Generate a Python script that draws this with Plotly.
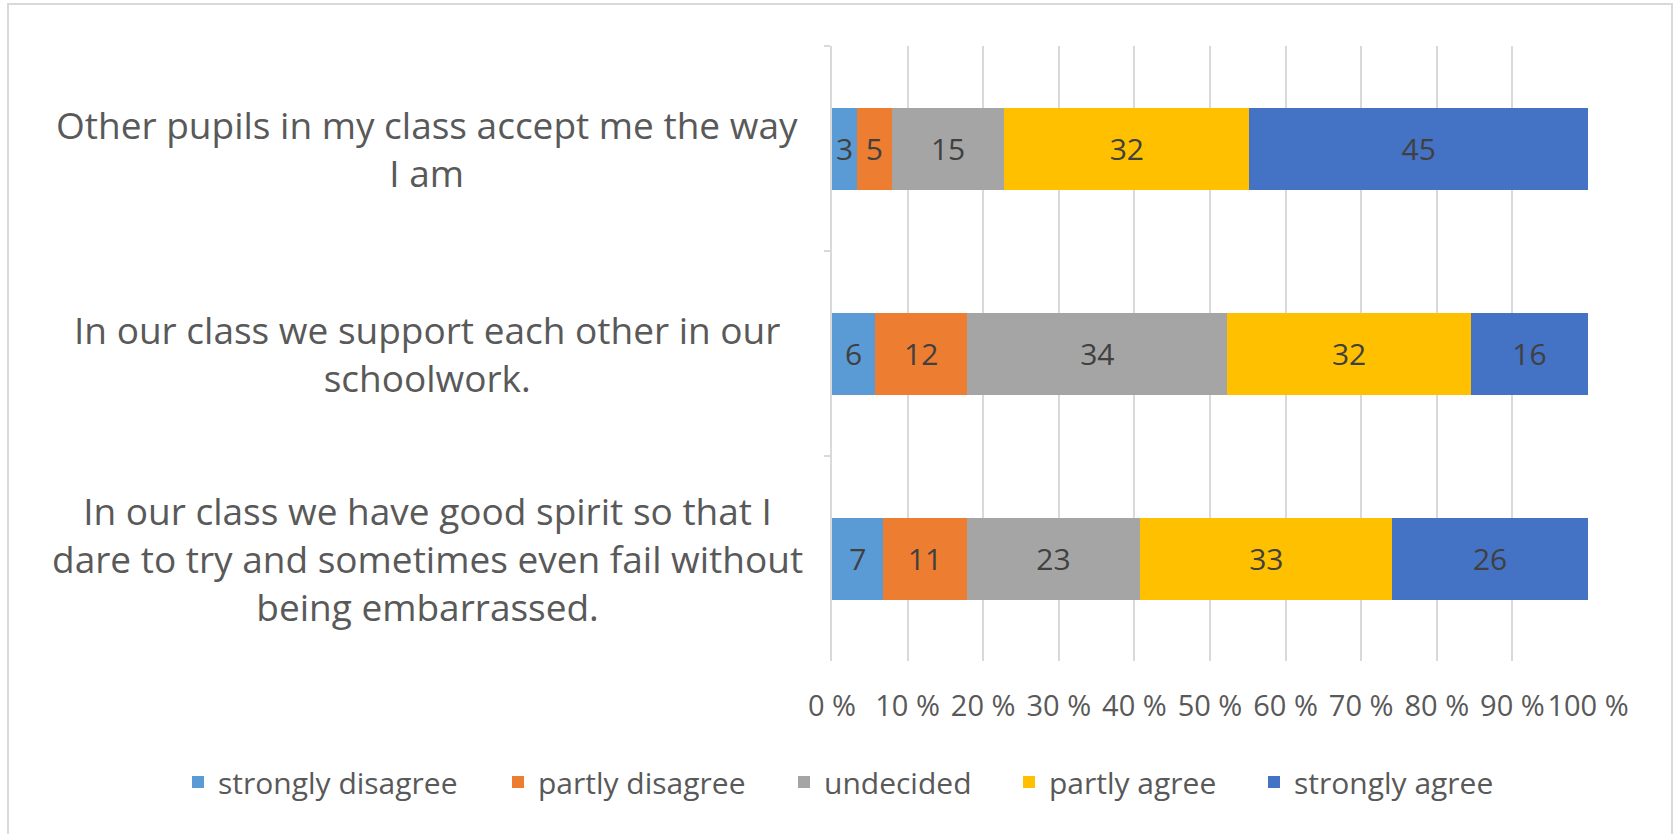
import plotly.graph_objects as go

# ---- data ----
categories = [
    "Other pupils in my class accept me the way I am",
    "In our class we support each other in our schoolwork.",
    "In our class we have good spirit so that I dare to try and sometimes even fail without being embarrassed.",
]
category_labels = [
    "Other pupils in my class accept me the way<br>I am",
    "In our class we support each other in our<br>schoolwork.",
    "In our class we have good spirit so that I<br>dare to try and sometimes even fail without<br>being embarrassed.",
]
series_names = ["strongly disagree", "partly disagree", "undecided", "partly agree", "strongly agree"]
strongly_disagree = [3.3, 5.7, 6.8]
partly_disagree = [4.6, 12.2, 11.0]
undecided = [14.9, 34.4, 23.0]
partly_agree = [32.4, 32.2, 33.3]
strongly_agree = [44.8, 15.5, 25.9]
series_values = [strongly_disagree, partly_disagree, undecided, partly_agree, strongly_agree]
tick_values = [0, 10, 20, 30, 40, 50, 60, 70, 80, 90, 100]
tick_labels = ["0 %", "10 %", "20 %", "30 %", "40 %", "50 %", "60 %", "70 %", "80 %", "90 %", "100 %"]

colors = ["#5B9BD5", "#ED7D31", "#A5A5A5", "#FFC000", "#4472C4"]
FONT = "Open Sans"

W, H = 1675, 834
L, R, T, B = 832, 87, 46, 173
pw, ph = W - L - R, H - T - B

# legend entry left edges (px), one legend box per series
legend_left_px = [178, 498, 784, 1009, 1254]
legend_ids = ["legend", "legend2", "legend3", "legend4", "legend5"]

fig = go.Figure()
for name, vals, col, lid in zip(series_names, series_values, colors, legend_ids):
    fig.add_trace(go.Bar(
        y=categories, x=vals, name=name, orientation="h",
        marker=dict(color=col, line=dict(width=0)),
        texttemplate="%{x:.0f}", textposition="inside", insidetextanchor="middle",
        constraintext="none",
        textfont=dict(family=FONT, size=30, color="#404040"),
        hoverinfo="skip", legend=lid,
    ))

for cat, lab in zip(categories, category_labels):
    fig.add_annotation(
        xref="paper", yref="y", x=(427 - L) / pw, y=cat, text=lab,
        showarrow=False, xanchor="center", yanchor="middle", align="center",
        font=dict(family=FONT, size=37, color="#595959"),
    )

# outer frame
fig.add_shape(type="rect", xref="paper", yref="paper",
              x0=(8 - L) / pw, x1=(1672 - L) / pw,
              y0=(H - B - 845) / ph, y1=(H - B - 4) / ph,
              line=dict(color="#D9D9D9", width=2), fillcolor="rgba(0,0,0,0)", layer="below")

legend_common = dict(orientation="h", xanchor="left", y=(H - B - 782) / ph, yanchor="middle",
                     font=dict(family=FONT, size=30, color="#595959"),
                     bgcolor="rgba(0,0,0,0)", itemwidth=30)
layout_legends = {lid: dict(legend_common, x=(px - L) / pw) for lid, px in zip(legend_ids, legend_left_px)}

fig.update_layout(
    width=W, height=H,
    margin=dict(l=L, r=R, t=T, b=B, pad=0, autoexpand=False),
    barmode="stack", bargap=0.6,
    paper_bgcolor="white", plot_bgcolor="white",
    showlegend=True,
    xaxis=dict(range=[0, 100], tickvals=tick_values, ticktext=tick_labels,
               showgrid=True, gridcolor="#D9D9D9", gridwidth=2,
               zeroline=False, showline=False, ticks="",
               ticklabelstandoff=25, tickangle=0,
               tickfont=dict(family=FONT, size=29, color="#595959"),
               fixedrange=True),
    yaxis=dict(autorange="reversed", showticklabels=False,
               showline=True, linecolor="#D9D9D9", linewidth=2,
               ticks="outside", tickson="boundaries", ticklen=6, tickcolor="#D9D9D9", tickwidth=2,
               showgrid=False, fixedrange=True),
    **layout_legends,
)

fig.write_html("out.html")
